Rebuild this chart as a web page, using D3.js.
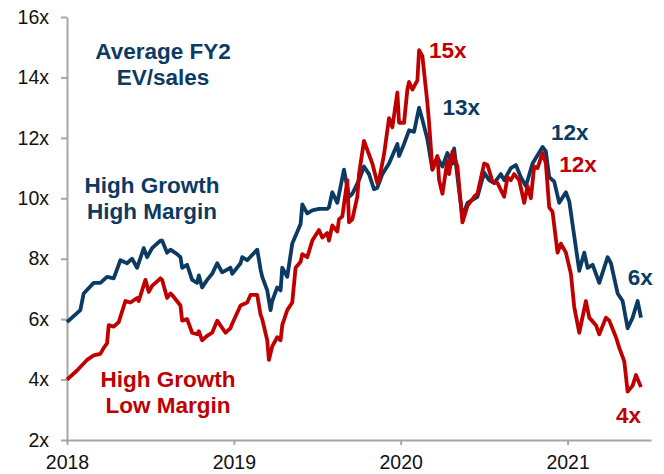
<!DOCTYPE html>
<html>
<head>
<meta charset="utf-8">
<script src="https://cdn.jsdelivr.net/npm/d3@7"></script>
<style>
  body { margin: 0; background: #fff; }
  svg { display: block; font-family: "Liberation Sans", Arial, sans-serif; }
</style>
</head>
<body>
<div id="content"></div>
<script>
/* Average FY2 EV/sales, high growth names split by margin */

const WIDTH = 664;
const HEIGHT = 474;
const PADDING = {top: 17, right: 13, bottom: 34, left: 67};

const NAVY = "#0b3a63";
const RED = "#c00000";
const AXIS_GREY = "#a6a6a6";

// x values are decimal years
const yearTicks = [2018, 2019, 2020, 2021];
const multipleTicks = [2, 4, 6, 8, 10, 12, 14, 16];

const highMarginYears = [
  2018.00, 2018.08, 2018.10, 2018.16, 2018.20, 2018.24, 2018.28, 2018.32, 2018.36, 2018.39,
  2018.42, 2018.46, 2018.48, 2018.51, 2018.56, 2018.57, 2018.60, 2018.62, 2018.66, 2018.68,
  2018.69, 2018.72, 2018.75, 2018.78, 2018.79, 2018.81, 2018.84, 2018.87, 2018.90, 2018.93,
  2018.98, 2018.99, 2019.04, 2019.05, 2019.08, 2019.14, 2019.16, 2019.17, 2019.20, 2019.22,
  2019.23, 2019.26, 2019.28, 2019.29, 2019.32, 2019.35, 2019.40, 2019.41, 2019.44, 2019.47,
  2019.51, 2019.56, 2019.57, 2019.59, 2019.62, 2019.66, 2019.69, 2019.71, 2019.75, 2019.78,
  2019.81, 2019.84, 2019.86, 2019.89, 2019.93, 2019.98, 2019.99, 2020.02, 2020.05, 2020.08,
  2020.11, 2020.13, 2020.16, 2020.19, 2020.22, 2020.25, 2020.28, 2020.31, 2020.32, 2020.35,
  2020.37, 2020.40, 2020.46, 2020.50, 2020.53, 2020.56, 2020.60, 2020.62, 2020.66, 2020.69,
  2020.72, 2020.75, 2020.79, 2020.85, 2020.87, 2020.89, 2020.92, 2020.95, 2020.99, 2021.01,
  2021.07, 2021.10, 2021.12, 2021.15, 2021.19, 2021.24, 2021.26, 2021.30, 2021.33, 2021.36,
  2021.39, 2021.42, 2021.44
];
const highMarginValues = [
  5.9, 6.3, 6.85, 7.2, 7.2, 7.4, 7.35, 7.95, 7.85, 8.0,
  7.7, 8.35, 8.05, 8.35, 8.6, 8.6, 8.2, 8.3, 8.15, 8.05,
  7.7, 7.8, 7.3, 7.2, 7.45, 7.05, 7.3, 7.5, 7.85, 7.55,
  7.7, 7.5, 7.85, 8.05, 7.95, 8.3, 7.65, 7.4, 6.95, 6.3,
  6.6, 7.05, 6.95, 7.7, 7.4, 8.5, 9.15, 9.8, 9.5, 9.6,
  9.65, 9.65, 9.7, 10.2, 9.85, 10.95, 10.05, 10.15, 10.6, 11.05,
  10.8, 10.3, 10.35, 10.8, 11.15, 11.8, 11.4, 11.8, 12.25, 12.2,
  13.0, 12.6, 11.95, 10.95, 11.35, 11.05, 11.5, 11.15, 11.65, 10.25,
  9.4, 9.85, 10.05, 10.85, 10.6, 10.5, 10.8, 10.6, 11.0, 11.1,
  10.7, 10.4, 11.15, 11.7, 11.55, 10.7, 10.55, 9.85, 10.2, 9.9,
  7.6, 8.2, 7.7, 7.8, 7.2, 8.05, 7.85, 6.85, 6.6, 5.7,
  6.05, 6.6, 6.05
];

const lowMarginYears = [
  2018.00, 2018.06, 2018.12, 2018.16, 2018.20, 2018.22, 2018.24, 2018.25, 2018.28, 2018.31,
  2018.35, 2018.38, 2018.42, 2018.43, 2018.47, 2018.49, 2018.51, 2018.56, 2018.57, 2018.60,
  2018.62, 2018.63, 2018.68, 2018.69, 2018.72, 2018.75, 2018.78, 2018.79, 2018.81, 2018.84,
  2018.87, 2018.90, 2018.95, 2018.98, 2018.99, 2019.04, 2019.08, 2019.10, 2019.14, 2019.16,
  2019.17, 2019.20, 2019.21, 2019.23, 2019.26, 2019.28, 2019.29, 2019.32, 2019.35, 2019.37,
  2019.40, 2019.41, 2019.44, 2019.47, 2019.51, 2019.53, 2019.56, 2019.57, 2019.59, 2019.62,
  2019.63, 2019.65, 2019.68, 2019.69, 2019.71, 2019.74, 2019.75, 2019.78, 2019.81, 2019.83,
  2019.86, 2019.87, 2019.90, 2019.93, 2019.95, 2019.98, 2019.99, 2020.02, 2020.04, 2020.05,
  2020.07, 2020.10, 2020.11, 2020.13, 2020.16, 2020.17, 2020.19, 2020.22, 2020.23, 2020.25,
  2020.28, 2020.29, 2020.31, 2020.34, 2020.37, 2020.40, 2020.44, 2020.46, 2020.50, 2020.52,
  2020.55, 2020.58, 2020.62, 2020.64, 2020.66, 2020.68, 2020.71, 2020.74, 2020.76, 2020.78,
  2020.80, 2020.82, 2020.85, 2020.87, 2020.89, 2020.91, 2020.94, 2020.96, 2020.99, 2021.02,
  2021.04, 2021.07, 2021.11, 2021.13, 2021.17, 2021.19, 2021.23, 2021.25, 2021.29, 2021.31,
  2021.34, 2021.36, 2021.39, 2021.41, 2021.44
];
const lowMarginValues = [
  4.0, 4.3, 4.65, 4.8, 4.85, 5.05, 5.2, 5.8, 5.75, 5.9,
  6.6, 6.55, 6.7, 6.6, 7.3, 6.9, 7.1, 7.35, 7.3, 6.7,
  6.85, 6.8, 6.45, 5.95, 6.0, 5.55, 5.5, 5.6, 5.3, 5.45,
  5.55, 5.95, 5.55, 5.7, 5.85, 6.45, 6.55, 6.8, 6.8, 6.15,
  6.0, 5.3, 4.65, 5.1, 5.4, 5.3, 5.8, 6.3, 6.55, 7.7,
  7.9, 8.15, 8.05, 8.6, 8.95, 8.7, 8.85, 8.6, 9.1, 8.9,
  9.3, 9.4, 10.6, 9.2, 9.3, 10.05, 10.8, 11.9, 11.45, 11.15,
  10.5, 10.6, 11.45, 12.65, 12.35, 13.5, 12.5, 12.5, 13.6, 13.85,
  13.6, 13.9, 14.9, 14.7, 13.15, 12.5, 10.95, 11.4, 10.6, 10.15,
  11.25, 10.8, 11.55, 11.05, 9.2, 9.75, 10.05, 10.15, 11.15, 11.1,
  10.55, 10.5, 10.05, 10.7, 10.6, 10.8, 10.6, 9.85, 10.4, 10.0,
  11.05, 11.0, 11.5, 11.15, 9.7, 9.55, 8.2, 8.5, 8.2, 7.5,
  6.4, 5.55, 6.6, 6.05, 5.8, 5.5, 6.05, 5.95, 5.4, 5.05,
  4.6, 3.6, 3.8, 4.15, 3.75
];

// label text and the point (left edge, baseline) each one sits at
const labelTexts = ["15x", "13x", "12x", "12x", "6x", "4x"];
const labelYears = [2020.17, 2020.25, 2020.90, 2020.95, 2021.36, 2021.29];
const labelValues = [14.65, 12.76, 11.93, 10.87, 7.13, 2.56];
const labelColors = [RED, NAVY, NAVY, RED, NAVY, RED];

window.onload = () => {
    buildChart();
}

function buildChart() {

    const x = d3.scaleLinear().domain([2018, 2021.5]).range([PADDING.left, WIDTH - PADDING.right]);
    const y = d3.scaleLinear().domain([2, 16]).range([HEIGHT - PADDING.bottom, PADDING.top]);

    const svg = d3.select("#content").append("svg").attr("width", WIDTH).attr("height", HEIGHT);

    // axes
    const yAxis = svg.append("g")
        .attr("transform", "translate(" + PADDING.left + ",0)")
        .call(d3.axisLeft(y).tickValues(multipleTicks).tickSize(6).tickSizeOuter(0).tickPadding(12).tickFormat((d) => d + "x"));

    const xAxis = svg.append("g")
        .attr("transform", "translate(0," + (HEIGHT - PADDING.bottom) + ")")
        .call(d3.axisBottom(x).tickValues(yearTicks).tickSize(5).tickSizeOuter(0).tickPadding(10).tickFormat(d3.format("d")));

    [yAxis, xAxis].forEach((ax) => {
        ax.select(".domain").attr("stroke", AXIS_GREY).attr("stroke-width", 2);
        ax.selectAll(".tick line").attr("stroke", AXIS_GREY).attr("stroke-width", 2);
        ax.selectAll(".tick text").attr("fill", "#111").style("font-size", "19.5px");
    });

    const line = d3.line()
        .x((d) => x(d[0]))
        .y((d) => y(d[1]));

    const highMargin = d3.zip(highMarginYears, highMarginValues);
    const lowMargin = d3.zip(lowMarginYears, lowMarginValues);

    svg.append("path")
        .datum(highMargin)
        .attr("fill", "none")
        .attr("stroke", NAVY)
        .attr("stroke-width", 3.8)
        .attr("stroke-linejoin", "round")
        .attr("d", line);

    svg.append("path")
        .datum(lowMargin)
        .attr("fill", "none")
        .attr("stroke", RED)
        .attr("stroke-width", 3.8)
        .attr("stroke-linejoin", "round")
        .attr("d", line);

    // headline and series names
    const blocks = [
        {lines: ["Average FY2", "EV/sales"], cx: 163, top: 59, color: NAVY},
        {lines: ["High Growth", "High Margin"], cx: 152, top: 193, color: NAVY},
        {lines: ["High Growth", "Low Margin"], cx: 168, top: 387, color: RED}
    ];

    blocks.forEach((b) => {
        b.lines.forEach((t, i) => {
            svg.append("text")
                .attr("x", b.cx)
                .attr("y", b.top + i * 25.5)
                .attr("text-anchor", "middle")
                .attr("fill", b.color)
                .style("font-size", "22.5px")
                .style("font-weight", "bold")
                .text(t);
        });
    });

    // end / peak labels
    svg.selectAll(".value-label")
        .data(labelTexts)
        .enter()
        .append("text")
        .attr("class", "value-label")
        .attr("x", (d, i) => x(labelYears[i]))
        .attr("y", (d, i) => y(labelValues[i]))
        .attr("fill", (d, i) => labelColors[i])
        .style("font-size", "22.5px")
        .style("font-weight", "bold")
        .text((d) => d);
}
</script>
</body>
</html>
